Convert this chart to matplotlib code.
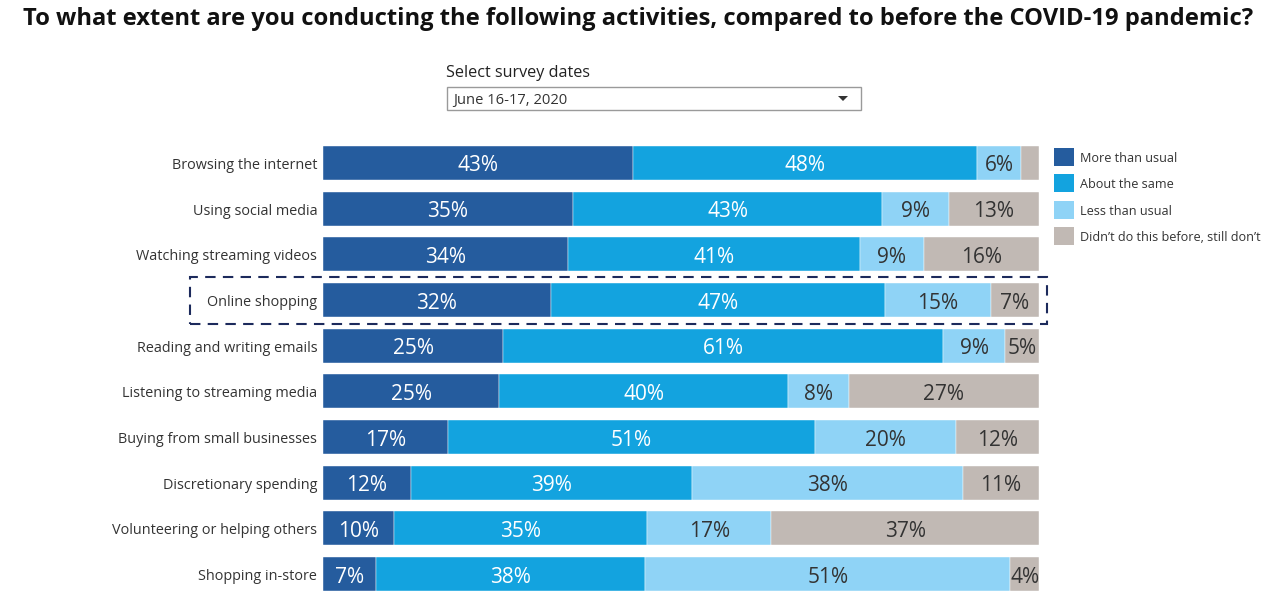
import matplotlib
matplotlib.use("Agg")
import matplotlib.pyplot as plt
from matplotlib.patches import Rectangle, Polygon

plt.rcParams['font.family'] = ['Open Sans', 'DejaVu Sans']

categories = [
    "Browsing the internet",
    "Using social media",
    "Watching streaming videos",
    "Online shopping",
    "Reading and writing emails",
    "Listening to streaming media",
    "Buying from small businesses",
    "Discretionary spending",
    "Volunteering or helping others",
    "Shopping in-store",
]
more_than_usual = [43.3, 34.9, 34.2, 31.8, 25.2, 24.6, 17.4, 12.3, 9.9, 7.4]
about_the_same = [48.1, 43.2, 40.8, 46.7, 61.4, 40.4, 51.3, 39.3, 35.4, 37.6]
less_than_usual = [6.1, 9.3, 8.9, 14.8, 8.7, 8.4, 19.7, 37.8, 17.3, 51.0]
didnt_before = [2.5, 12.6, 16.1, 6.7, 4.7, 26.6, 11.6, 10.6, 37.4, 4.0]

series_names = ["More than usual", "About the same", "Less than usual",
                "Didn\u2019t do this before, still don\u2019t"]
series = [more_than_usual, about_the_same, less_than_usual, didnt_before]
colors = ["#255c9e", "#13a3df", "#8fd3f6", "#c1b9b4"]
text_colors = ["white", "white", "#333333", "#333333"]

title = "To what extent are you conducting the following activities, compared to before the COVID-19 pandemic?"
filter_title = "Select survey dates"
filter_value = "June 16-17, 2020"
highlight = "Online shopping"

W, H = 1276, 602
fig = plt.figure(figsize=(W / 100, H / 100), dpi=100)
fig.patch.set_facecolor("white")

def fx(px):
    return px / W

def fy(py):
    return 1 - py / H

row_gap = 45.67
top_c, n = 163.0, len(categories)
ax_top = top_c - row_gap / 2
ax_bot = top_c + (n - 1) * row_gap + row_gap / 2
ax = fig.add_axes([fx(323), fy(ax_bot), fx(1039) - fx(323), (ax_bot - ax_top) / H])
ax.set_xlim(0, 100)
ax.set_ylim(n - 0.5, -0.5)
ax.axis("off")

txt_off = 3.0 / row_gap  # text sits slightly lower than the geometric center

ypos = list(range(n))
left = [0.0] * n
for vals, col, tc in zip(series, colors, text_colors):
    ax.barh(ypos, vals, left=left, height=0.745, color=col,
            edgecolor="white", linewidth=0.3)
    for i, v in enumerate(vals):
        if v >= 3.5:
            ax.text(left[i] + v / 2, i + txt_off, f"{round(v)}%", ha="center",
                    va="center", color=tc, fontsize=15)
    left = [l + v for l, v in zip(left, vals)]

# category labels
for i, c in enumerate(categories):
    ax.text(-0.8, i + 2.5 / row_gap, c, ha="right", va="center", fontsize=10.4,
            color="#333333")

# highlight dashed rectangle
hi = categories.index(highlight)
yc = top_c + hi * row_gap
rect = Rectangle((fx(190), fy(yc + 24)), fx(1047) - fx(190), 47 / H,
                 transform=fig.transFigure, fill=False, edgecolor="#1c2a5c",
                 linewidth=1.5, linestyle=(0, (5, 3.5)), clip_on=False)
fig.add_artist(rect)

# title
fig.text(fx(638), fy(19), title, ha="center", va="center", fontsize=17.1,
         fontweight="bold", color="#111111")

# filter control
fig.text(fx(446), fy(73), filter_title, ha="left", va="center", fontsize=11.6,
         color="#222222")
box = Rectangle((fx(447), fy(110)), fx(861) - fx(447), 23 / H,
                transform=fig.transFigure, fill=True, facecolor="white",
                edgecolor="#9a9a9a", linewidth=1.0)
fig.add_artist(box)
fig.text(fx(453), fy(100.5), filter_value, ha="left", va="center", fontsize=10.6,
         color="#333333")
tri = Polygon([(fx(838), fy(96)), (fx(848), fy(96)), (fx(843), fy(101))],
              closed=True, transform=fig.transFigure, facecolor="#333333",
              edgecolor="none")
fig.add_artist(tri)

# legend
leg_y = [157, 183, 210, 236]
for name, col, yy in zip(series_names, colors, leg_y):
    fig.add_artist(Rectangle((fx(1054), fy(yy + 9)), 20 / W, 18 / H,
                             transform=fig.transFigure, facecolor=col,
                             edgecolor="none"))
    fig.text(fx(1080), fy(yy + 1.5), name, ha="left", va="center", fontsize=9.1,
             color="#333333")

fig.savefig("out.png", dpi=100, facecolor="white")
